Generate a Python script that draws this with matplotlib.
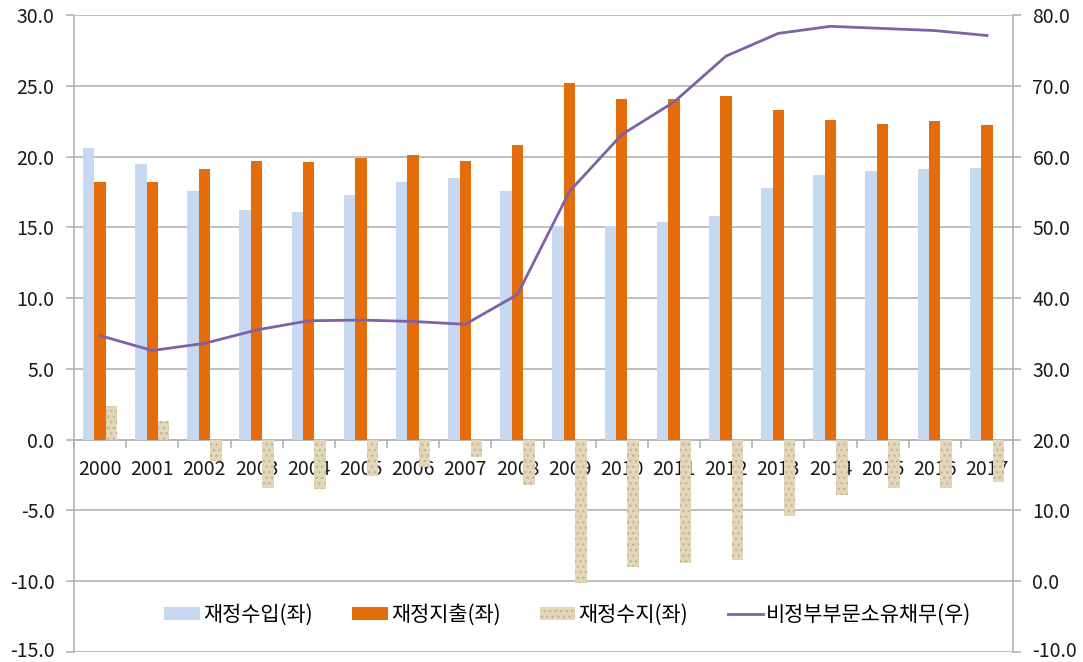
import matplotlib
matplotlib.use("Agg")
import matplotlib.pyplot as plt
import matplotlib.transforms as mtransforms
import numpy as np
from matplotlib.patches import Patch
from matplotlib.lines import Line2D

plt.rcParams['font.family'] = ['Noto Sans CJK KR', 'DejaVu Sans']
plt.rcParams['hatch.linewidth'] = 1.0

years = ['2000', '2001', '2002', '2003', '2004', '2005', '2006', '2007', '2008',
         '2009', '2010', '2011', '2012', '2013', '2014', '2015', '2016', '2017']
revenue = [20.6, 19.5, 17.6, 16.2, 16.1, 17.3, 18.2, 18.5, 17.6,
           15.1, 15.1, 15.4, 15.8, 17.8, 18.7, 19.0, 19.1, 19.2]
expenditure = [18.2, 18.2, 19.1, 19.7, 19.6, 19.9, 20.1, 19.7, 20.8,
               25.2, 24.1, 24.1, 24.3, 23.3, 22.6, 22.3, 22.5, 22.2]
balance = [2.4, 1.3, -1.5, -3.4, -3.5, -2.6, -1.9, -1.2, -3.2,
           -10.1, -9.0, -8.7, -8.5, -5.4, -3.9, -3.4, -3.4, -3.0]
debt = [34.7, 32.6, 33.6, 35.5, 36.8, 36.9, 36.7, 36.3, 40.5,
        55.1, 63.1, 67.7, 74.2, 77.4, 78.4, 78.1, 77.8, 77.1]
left_ticks = [-15, -10, -5, 0, 5, 10, 15, 20, 25, 30]
right_ticks = [-10, 0, 10, 20, 30, 40, 50, 60, 70, 80]
labels = ['재정수입(좌)', '재정지출(좌)', '재정수지(좌)', '비정부부문소유채무(우)']

c_rev = '#C6D9F0'
c_exp = '#E46C0A'
c_bal_face = '#E2D7BA'
c_bal_edge = '#C6B68F'
c_line = '#7E62A5'
c_grid = '#B4B4B4'
c_text = '#1a1a1a'

fig = plt.figure(figsize=(10.83, 6.62), dpi=100)
ax = fig.add_axes([74/1083, 1-652/662, (1013-74)/1083, (652-15)/662])
ax2 = ax.twinx()

x = np.arange(len(years))
w = 0.22
ax.bar(x - w, revenue, w, color=c_rev, zorder=3)
ax.bar(x, expenditure, w, color=c_exp, zorder=3)
ax.bar(x + w, balance, w, facecolor=c_bal_face, edgecolor=c_bal_edge,
       hatch='...', linewidth=0, zorder=3)

ax.set_xlim(-0.5, len(years) - 0.5)
ax.set_ylim(-15, 30)
ax.set_yticks(left_ticks)
ax.set_yticklabels([f'{v:.1f}' for v in left_ticks])
ax.yaxis.grid(True, color=c_grid, linewidth=1.2, zorder=0)
ax.set_axisbelow(True)

for s in ['top', 'right']:
    ax.spines[s].set_visible(False)
ax.spines['left'].set_color(c_grid)
ax.spines['left'].set_linewidth(1.2)
ax.spines['bottom'].set_position(('data', 0))
ax.spines['bottom'].set_color(c_grid)
ax.spines['bottom'].set_linewidth(1.2)

ax.set_xticks(np.arange(len(years) + 1) - 0.5)
ax.set_xticklabels([])
ax.tick_params(axis='x', which='major', length=6, color=c_grid, width=1.2, direction='out')
ax.set_xticks(x, minor=True)
ax.set_xticklabels(years, minor=True)
ax.tick_params(axis='x', which='minor', length=0, pad=14, labelsize=14, labelcolor=c_text)
ax.tick_params(axis='y', length=6, color=c_grid, width=1.2, labelsize=14,
               labelcolor=c_text, pad=8)

ax2.plot(x, debt, color=c_line, linewidth=2.0, zorder=4)
ax2.set_ylim(-10, 80)
ax2.set_yticks(right_ticks)
ax2.set_yticklabels([f'{v:.1f}' for v in right_ticks])
for s in ['top', 'left', 'bottom']:
    ax2.spines[s].set_visible(False)
ax2.spines['right'].set_color(c_grid)
ax2.spines['right'].set_linewidth(1.2)
ax2.tick_params(axis='y', length=6, color=c_grid, width=1.2, labelsize=14,
                labelcolor=c_text, pad=8)

# nudge the lowest tick labels up slightly so they stay inside the figure
shift = mtransforms.ScaledTranslation(0, 3/100, fig.dpi_scale_trans)
for lab in [ax.get_yticklabels()[0], ax2.get_yticklabels()[0]]:
    lab.set_transform(lab.get_transform() + shift)

handles = [Patch(facecolor=c_rev, edgecolor='none'),
           Patch(facecolor=c_exp, edgecolor='none'),
           Patch(facecolor=c_bal_face, edgecolor=c_bal_edge, hatch='...', linewidth=0),
           Line2D([0], [0], color=c_line, linewidth=2.0)]
fig.legend(handles, labels, loc='center', bbox_to_anchor=(568/1083, 1-615/662),
           ncol=4, frameon=False, fontsize=15, handlelength=1.7, handleheight=0.6,
           handletextpad=0.15, columnspacing=1.9)

fig.savefig('out.png', dpi=100, facecolor='white')
